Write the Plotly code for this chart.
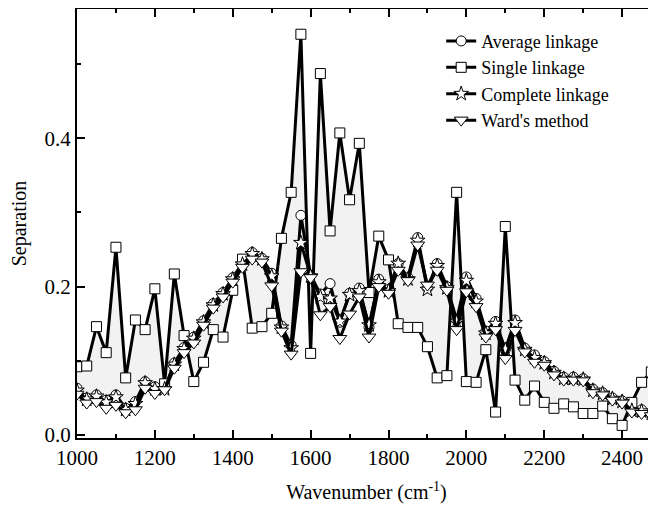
import plotly.graph_objects as go

wavenumber = list(range(1000, 2501, 25))

single = [0.092,0.093,0.146,0.111,0.253,0.077,0.155,0.142,0.197,0.069,
          0.217,0.134,0.072,0.098,0.142,0.132,0.195,0.237,0.144,0.146,
          0.164,0.265,0.327,0.540,0.110,0.487,0.275,0.407,0.317,0.393,
          0.192,0.268,0.236,0.150,0.145,0.145,0.119,0.077,0.080,0.327,
          0.072,0.071,0.115,0.031,0.281,0.074,0.047,0.066,0.044,0.036,
          0.042,0.038,0.029,0.029,0.039,0.022,0.013,0.044,0.071,0.085,0.068]

average = [0.063,0.050,0.054,0.047,0.054,0.036,0.045,0.072,0.065,0.063,
           0.097,0.118,0.132,0.154,0.177,0.192,0.212,0.232,0.246,0.238,
           0.218,0.147,0.121,0.296,0.215,0.190,0.204,0.152,0.191,0.198,
           0.145,0.210,0.196,0.231,0.212,0.266,0.198,0.231,0.200,0.155,
           0.213,0.184,0.140,0.153,0.115,0.155,0.117,0.108,0.099,0.086,
           0.078,0.078,0.076,0.062,0.057,0.050,0.046,0.035,0.034,0.031,0.022]

complete = [0.060,0.048,0.052,0.044,0.051,0.034,0.042,0.070,0.062,0.062,
            0.095,0.116,0.130,0.152,0.175,0.190,0.210,0.230,0.244,0.237,
            0.214,0.145,0.117,0.259,0.214,0.186,0.184,0.153,0.189,0.194,
            0.148,0.206,0.194,0.231,0.210,0.262,0.196,0.228,0.198,0.152,
            0.208,0.180,0.137,0.150,0.115,0.151,0.115,0.104,0.097,0.084,
            0.076,0.076,0.075,0.060,0.056,0.049,0.045,0.033,0.032,0.029,0.020]

ward = [0.055,0.043,0.045,0.036,0.040,0.030,0.034,0.063,0.056,0.061,
        0.090,0.111,0.124,0.148,0.171,0.186,0.206,0.226,0.237,0.233,
        0.201,0.140,0.109,0.220,0.212,0.162,0.173,0.130,0.163,0.186,
        0.132,0.200,0.191,0.222,0.208,0.256,0.202,0.222,0.195,0.142,
        0.193,0.173,0.132,0.142,0.103,0.141,0.112,0.098,0.094,0.081,
        0.074,0.074,0.073,0.057,0.054,0.047,0.043,0.031,0.029,0.026,0.018]

font_family = "Liberation Serif, Times New Roman, serif"

fig = go.Figure()

# shaded band between single linkage and Ward's method
fig.add_trace(go.Scatter(x=wavenumber, y=ward, mode="lines",
                         line=dict(width=0), showlegend=False, hoverinfo="skip"))
fig.add_trace(go.Scatter(x=wavenumber, y=single, mode="lines",
                         line=dict(width=0), fill="tonexty",
                         fillcolor="rgba(0,0,0,0.05)",
                         showlegend=False, hoverinfo="skip"))

series = [
    ("Average linkage", average, "circle", 10),
    ("Single linkage", single, "square", 10),
    ("Complete linkage", complete, "star", 11),
    ("Ward's method", ward, "triangle-down", 12),
]

for name, vals, sym, size in series:
    fig.add_trace(go.Scatter(
        x=wavenumber, y=vals, name=name, mode="lines+markers",
        line=dict(color="black", width=3),
        marker=dict(symbol=sym, size=size, color="white",
                    line=dict(color="black", width=1)),
    ))

axis_common = dict(
    showline=True, linecolor="black", linewidth=2, mirror="ticks",
    ticks="inside", ticklen=8, tickwidth=1.5, tickcolor="black",
    showgrid=False, zeroline=False, automargin=False,
    tickfont=dict(family=font_family, size=21, color="black"),
)

fig.update_xaxes(
    range=[1000, 2487], dtick=200, tick0=1000,
    minor=dict(ticks="inside", ticklen=4, tickwidth=1.5, dtick=100, tickcolor="black"),
    title=dict(text="Wavenumber (cm<sup>-1</sup>)",
               font=dict(family=font_family, size=20, color="black"), standoff=16),
    **axis_common,
)
fig.update_yaxes(
    range=[-0.004, 0.574], dtick=0.2, tick0=0, tickformat=".1f",
    minor=dict(ticks="inside", ticklen=4, tickwidth=1.5, dtick=0.1, tickcolor="black"),
    title=dict(text="Separation",
               font=dict(family=font_family, size=20, color="black"), standoff=14),
    **axis_common,
)

# page body adds an 8px margin, so the figure is 8px smaller than the window
fig.update_layout(
    width=648, height=497,
    margin=dict(l=69, r=0, t=1, b=67),
    paper_bgcolor="white", plot_bgcolor="white",
    legend=dict(x=0.629, y=0.968, xanchor="left", yanchor="top",
                traceorder="normal",
                bgcolor="rgba(0,0,0,0)", tracegroupgap=0,
                font=dict(family=font_family, size=18, color="black")),
)

fig.write_html("out.html")
